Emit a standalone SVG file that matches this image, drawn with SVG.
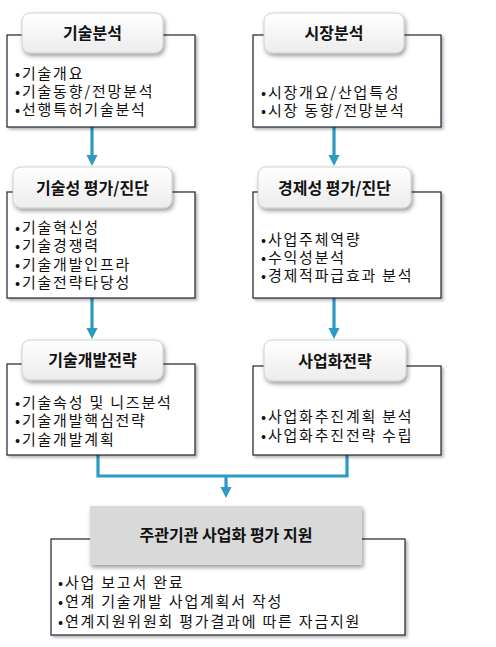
<svg xmlns="http://www.w3.org/2000/svg" width="496" height="647" viewBox="0 0 496 647">
<defs>
<style>
.frame{fill:#fff;stroke:#1c2333;stroke-width:1.2;filter:url(#sh)}
.hdr{fill:url(#hg);stroke:#c8c8c8;stroke-width:0.8;filter:url(#sh2)}
.ht{font-family:"Noto Sans CJK KR","Noto Sans",sans-serif;font-weight:bold;font-size:16px;fill:#111;text-anchor:middle}
.bt{font-family:"Noto Sans CJK KR","Noto Sans",sans-serif;font-size:15px;fill:#111;letter-spacing:1.8px}
.con{fill:none;stroke:#2b9bc3;stroke-width:3.2}
.head{fill:#2b9bc3}
</style>
<linearGradient id="hg" x1="0" y1="0" x2="0" y2="1">
<stop offset="0" stop-color="#ffffff"/>
<stop offset="1" stop-color="#ececec"/>
</linearGradient>
<filter id="sh" x="-10%" y="-10%" width="125%" height="130%">
<feDropShadow dx="2" dy="2" stdDeviation="1.5" flood-color="#000" flood-opacity="0.3"/>
</filter>
<filter id="sh2" x="-10%" y="-20%" width="125%" height="150%">
<feDropShadow dx="1.5" dy="2.5" stdDeviation="2" flood-color="#000" flood-opacity="0.4"/>
</filter>
</defs>
<rect width="496" height="647" fill="#fff"/>
<g id="connectors">
<line class="con" x1="92" y1="127" x2="92" y2="156"/>
<polygon class="head" points="86.5,155 97.5,155 92,166"/>
<line class="con" x1="334" y1="127" x2="334" y2="156"/>
<polygon class="head" points="328.5,155 339.5,155 334,166"/>
<line class="con" x1="92" y1="298" x2="92" y2="329"/>
<polygon class="head" points="86.5,328 97.5,328 92,339"/>
<line class="con" x1="334" y1="298" x2="334" y2="329"/>
<polygon class="head" points="328.5,328 339.5,328 334,339"/>
<polyline class="con" points="98,455 98,476 347,476 347,455"/>
<line class="con" x1="226" y1="476" x2="226" y2="488"/>
<polygon class="head" points="220.5,487 231.5,487 226,498"/>
</g>
<g id="tech-analysis">
<rect class="frame" x="7" y="35" width="188" height="92"/>
<rect class="hdr" x="22" y="13" width="141" height="40" rx="8"/>
<text class="ht" x="92.5" y="39">기술분석</text>
<text class="bt" x="15" y="79">•기술개요</text>
<text class="bt" x="15" y="97">•기술동향/전망분석</text>
<text class="bt" x="15" y="115">•선행특허기술분석</text>
</g>
<g id="market-analysis">
<rect class="frame" x="253" y="35" width="188" height="92"/>
<rect class="hdr" x="264" y="13" width="140" height="40" rx="8"/>
<text class="ht" x="334" y="39">시장분석</text>
<text class="bt" x="261" y="98">•시장개요/산업특성</text>
<text class="bt" x="261" y="116">•시장 동향/전망분석</text>
</g>
<g id="tech-eval">
<rect class="frame" x="7" y="192" width="188" height="106"/>
<rect class="hdr" x="13" y="167" width="159" height="41" rx="8"/>
<text class="ht" x="92.5" y="194">기술성 평가/진단</text>
<text class="bt" x="15" y="233">•기술혁신성</text>
<text class="bt" x="15" y="251">•기술경쟁력</text>
<text class="bt" x="15" y="270">•기술개발인프라</text>
<text class="bt" x="15" y="288">•기술전략타당성</text>
</g>
<g id="econ-eval">
<rect class="frame" x="253" y="192" width="188" height="106"/>
<rect class="hdr" x="258" y="167" width="153" height="41" rx="8"/>
<text class="ht" x="334.5" y="194">경제성 평가/진단</text>
<text class="bt" x="261" y="245">•사업주체역량</text>
<text class="bt" x="261" y="263">•수익성분석</text>
<text class="bt" x="261" y="281">•경제적파급효과 분석</text>
</g>
<g id="tech-strategy">
<rect class="frame" x="7" y="364" width="188" height="91"/>
<rect class="hdr" x="22" y="340" width="141" height="40" rx="8"/>
<text class="ht" x="92.5" y="366">기술개발전략</text>
<text class="bt" x="15" y="408">•기술속성 및 니즈분석</text>
<text class="bt" x="15" y="426">•기술개발핵심전략</text>
<text class="bt" x="15" y="445">•기술개발계획</text>
</g>
<g id="biz-strategy">
<rect class="frame" x="253" y="366" width="188" height="89"/>
<rect class="hdr" x="264" y="340" width="142" height="41" rx="8"/>
<text class="ht" x="335" y="367">사업화전략</text>
<text class="bt" x="261" y="422">•사업화추진계획 분석</text>
<text class="bt" x="261" y="441">•사업화추진전략 수립</text>
</g>
<g id="support">
<rect class="frame" x="51" y="539" width="354" height="96"/>
<rect x="90" y="506" width="272" height="59" fill="#d9d9d9" filter="url(#sh2)"/>
<text class="ht" x="226" y="541" font-size="15.5">주관기관 사업화 평가 지원</text>
<text class="bt" x="58" y="588">•사업 보고서 완료</text>
<text class="bt" x="58" y="607">•연계 기술개발 사업계획서 작성</text>
<text class="bt" x="58" y="627">•연계지원위원회 평가결과에 따른 자금지원</text>
</g>
</svg>
